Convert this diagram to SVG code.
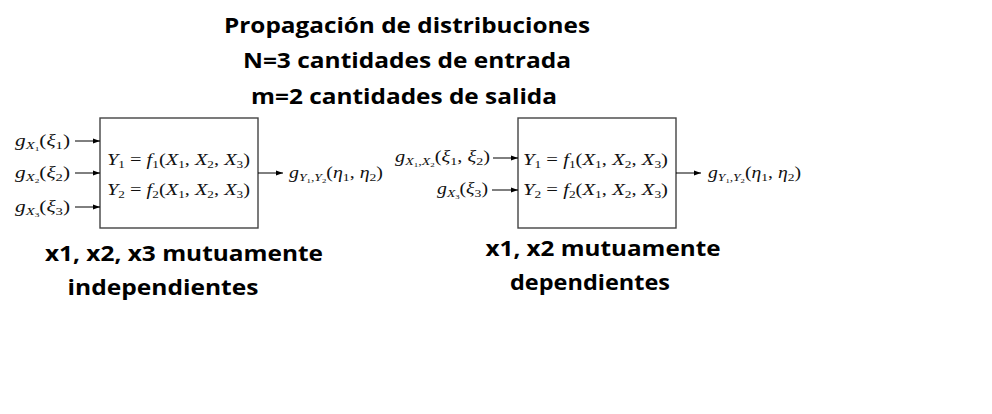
<svg xmlns="http://www.w3.org/2000/svg" width="992" height="414" viewBox="0 0 992 414">
<style>
.t{font-family:"Open Sans","Liberation Sans",sans-serif;font-weight:bold;font-size:22px;fill:#000}
.m{font-family:"Liberation Serif","DejaVu Serif",serif;font-size:17px;fill:#111}
.l{font-size:16px}
.i{font-style:italic}
.s{font-size:11px}
.ss{font-size:7px}
.box{fill:#fff;stroke:#444;stroke-width:1.4}
.c{stroke:#000;stroke-width:1;fill:none;marker-end:url(#ah)}
</style>
<defs>
<marker id="ah" markerWidth="8" markerHeight="6" refX="7" refY="3" orient="auto" markerUnits="userSpaceOnUse">
<path d="M0,0.5 L7,3 L0,5.5 z" fill="#000"/>
</marker>
</defs>
<rect width="992" height="414" fill="#fff"/>
<g id="title">
<text class="t" x="407" y="33" text-anchor="middle" textLength="366" lengthAdjust="spacingAndGlyphs">Propagación de distribuciones</text>
<text class="t" x="407" y="68" text-anchor="middle" textLength="328" lengthAdjust="spacingAndGlyphs">N=3 cantidades de entrada</text>
<text class="t" x="404" y="104" text-anchor="middle" textLength="306" lengthAdjust="spacingAndGlyphs">m=2 cantidades de salida</text>
</g>
<g id="box1">
<rect class="box" x="100" y="118" width="158" height="110"/>
<text class="m" x="107" y="165" textLength="143" lengthAdjust="spacingAndGlyphs"><tspan class="i">Y</tspan><tspan class="s" dy="3">1</tspan><tspan dy="-3"> = </tspan><tspan class="i">f</tspan><tspan class="s" dy="3">1</tspan><tspan dy="-3">(</tspan><tspan class="i">X</tspan><tspan class="s" dy="3">1</tspan><tspan dy="-3">, </tspan><tspan class="i">X</tspan><tspan class="s" dy="3">2</tspan><tspan dy="-3">, </tspan><tspan class="i">X</tspan><tspan class="s" dy="3">3</tspan><tspan dy="-3">)</tspan></text>
<text class="m" x="107" y="195" textLength="143" lengthAdjust="spacingAndGlyphs"><tspan class="i">Y</tspan><tspan class="s" dy="3">2</tspan><tspan dy="-3"> = </tspan><tspan class="i">f</tspan><tspan class="s" dy="3">2</tspan><tspan dy="-3">(</tspan><tspan class="i">X</tspan><tspan class="s" dy="3">1</tspan><tspan dy="-3">, </tspan><tspan class="i">X</tspan><tspan class="s" dy="3">2</tspan><tspan dy="-3">, </tspan><tspan class="i">X</tspan><tspan class="s" dy="3">3</tspan><tspan dy="-3">)</tspan></text>
</g>
<g id="in1">
<text class="m l" x="15" y="146" textLength="55" lengthAdjust="spacingAndGlyphs"><tspan class="i">g</tspan><tspan class="s i" dy="3">X</tspan><tspan class="ss" dy="2">1</tspan><tspan dy="-5">(</tspan><tspan class="i">ξ</tspan><tspan class="s" dy="3">1</tspan><tspan dy="-3">)</tspan></text>
<text class="m l" x="15" y="178" textLength="55" lengthAdjust="spacingAndGlyphs"><tspan class="i">g</tspan><tspan class="s i" dy="3">X</tspan><tspan class="ss" dy="2">2</tspan><tspan dy="-5">(</tspan><tspan class="i">ξ</tspan><tspan class="s" dy="3">2</tspan><tspan dy="-3">)</tspan></text>
<text class="m l" x="15" y="212" textLength="55" lengthAdjust="spacingAndGlyphs"><tspan class="i">g</tspan><tspan class="s i" dy="3">X</tspan><tspan class="ss" dy="2">3</tspan><tspan dy="-5">(</tspan><tspan class="i">ξ</tspan><tspan class="s" dy="3">3</tspan><tspan dy="-3">)</tspan></text>
</g>
<g id="out1">
<text class="m l" x="289" y="178" textLength="94" lengthAdjust="spacingAndGlyphs"><tspan class="i">g</tspan><tspan class="s i" dy="3">Y</tspan><tspan class="ss" dy="2">1</tspan><tspan class="s" dy="-2">,</tspan><tspan class="s i">Y</tspan><tspan class="ss" dy="2">2</tspan><tspan dy="-5">(</tspan><tspan class="i">η</tspan><tspan class="s" dy="3">1</tspan><tspan dy="-3">, </tspan><tspan class="i">η</tspan><tspan class="s" dy="3">2</tspan><tspan dy="-3">)</tspan></text>
</g>
<g id="box2">
<rect class="box" x="518" y="118" width="158" height="110"/>
<text class="m" x="523" y="165" textLength="145" lengthAdjust="spacingAndGlyphs"><tspan class="i">Y</tspan><tspan class="s" dy="3">1</tspan><tspan dy="-3"> = </tspan><tspan class="i">f</tspan><tspan class="s" dy="3">1</tspan><tspan dy="-3">(</tspan><tspan class="i">X</tspan><tspan class="s" dy="3">1</tspan><tspan dy="-3">, </tspan><tspan class="i">X</tspan><tspan class="s" dy="3">2</tspan><tspan dy="-3">, </tspan><tspan class="i">X</tspan><tspan class="s" dy="3">3</tspan><tspan dy="-3">)</tspan></text>
<text class="m" x="523" y="195" textLength="145" lengthAdjust="spacingAndGlyphs"><tspan class="i">Y</tspan><tspan class="s" dy="3">2</tspan><tspan dy="-3"> = </tspan><tspan class="i">f</tspan><tspan class="s" dy="3">2</tspan><tspan dy="-3">(</tspan><tspan class="i">X</tspan><tspan class="s" dy="3">1</tspan><tspan dy="-3">, </tspan><tspan class="i">X</tspan><tspan class="s" dy="3">2</tspan><tspan dy="-3">, </tspan><tspan class="i">X</tspan><tspan class="s" dy="3">3</tspan><tspan dy="-3">)</tspan></text>
</g>
<g id="in2">
<text class="m l" x="395" y="162" textLength="95" lengthAdjust="spacingAndGlyphs"><tspan class="i">g</tspan><tspan class="s i" dy="3">X</tspan><tspan class="ss" dy="2">1</tspan><tspan class="s" dy="-2">,</tspan><tspan class="s i">X</tspan><tspan class="ss" dy="2">2</tspan><tspan dy="-5">(</tspan><tspan class="i">ξ</tspan><tspan class="s" dy="3">1</tspan><tspan dy="-3">, </tspan><tspan class="i">ξ</tspan><tspan class="s" dy="3">2</tspan><tspan dy="-3">)</tspan></text>
<text class="m l" x="437" y="194" textLength="51" lengthAdjust="spacingAndGlyphs"><tspan class="i">g</tspan><tspan class="s i" dy="3">X</tspan><tspan class="ss" dy="2">3</tspan><tspan dy="-5">(</tspan><tspan class="i">ξ</tspan><tspan class="s" dy="3">3</tspan><tspan dy="-3">)</tspan></text>
</g>
<g id="out2">
<text class="m l" x="708" y="178" textLength="93" lengthAdjust="spacingAndGlyphs"><tspan class="i">g</tspan><tspan class="s i" dy="3">Y</tspan><tspan class="ss" dy="2">1</tspan><tspan class="s" dy="-2">,</tspan><tspan class="s i">Y</tspan><tspan class="ss" dy="2">2</tspan><tspan dy="-5">(</tspan><tspan class="i">η</tspan><tspan class="s" dy="3">1</tspan><tspan dy="-3">, </tspan><tspan class="i">η</tspan><tspan class="s" dy="3">2</tspan><tspan dy="-3">)</tspan></text>
</g>
<g id="connectors">
<line class="c" x1="75" y1="141" x2="100" y2="141"/>
<line class="c" x1="75" y1="173" x2="100" y2="173"/>
<line class="c" x1="75" y1="207" x2="100" y2="207"/>
<line class="c" x1="258" y1="173" x2="283" y2="173"/>
<line class="c" x1="493" y1="158" x2="518" y2="158"/>
<line class="c" x1="492" y1="190" x2="518" y2="190"/>
<line class="c" x1="676" y1="173" x2="701" y2="173"/>
</g>
<g id="notes">
<text class="t" x="184" y="261" text-anchor="middle" textLength="278" lengthAdjust="spacingAndGlyphs">x1, x2, x3 mutuamente</text>
<text class="t" x="163" y="295" text-anchor="middle" textLength="191" lengthAdjust="spacingAndGlyphs">independientes</text>
<text class="t" x="603" y="256" text-anchor="middle" textLength="235" lengthAdjust="spacingAndGlyphs">x1, x2 mutuamente</text>
<text class="t" x="590" y="290" text-anchor="middle" textLength="160" lengthAdjust="spacingAndGlyphs">dependientes</text>
</g>
</svg>
